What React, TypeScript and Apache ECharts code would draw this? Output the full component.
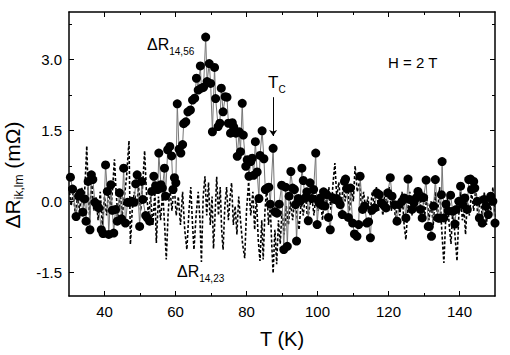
import React, { useEffect, useRef } from "react";
import * as echarts from "echarts";

// ΔR14,56 : filled circles (T in K, value in mΩ)
const r1456: [number, number][] = [
  [30.4,0.51],[31.0,0.26],[32.0,-0.32],[32.7,0.11],[33.2,0.18],[33.9,-0.23],[34.4,0.05],[34.8,-0.42],
  [35.4,0.42],[35.9,-0.6],[36.3,0.56],[36.7,0.46],[37.3,-0.02],[37.9,-0.07],[38.4,-0.14],[39.1,-0.6],
  [39.6,-0.68],[40.3,0.77],[40.8,0.21],[41.2,-0.7],[41.8,0.35],[42.2,-0.19],[42.6,-0.67],[43.1,-0.17],
  [43.6,-0.42],[44.2,0.18],[44.8,-0.37],[45.4,0.7],[45.9,-0.46],[46.5,-0.02],[47.1,-0.02],[47.7,0.0],
  [48.3,-0.02],[48.8,0.37],[49.2,0.56],[49.9,-0.53],[50.5,0.42],[50.8,0.04],[51.6,-0.3],[52.1,-0.35],
  [52.7,-0.42],[53.3,0.21],[53.9,0.53],[54.4,0.33],[55.0,0.25],[55.3,1.02],[55.9,0.35],[56.3,0.28],
  [56.9,0.7],[57.2,0.11],[57.8,1.09],[58.4,1.16],[58.9,0.96],[59.3,0.25],[59.7,0.5],[60.1,0.39],
  [60.5,2.06],[61.0,1.1],[61.5,1.02],[62.0,1.2],[62.3,1.64],[62.9,1.68],[63.5,1.89],[64.2,1.93],
  [64.8,2.14],[65.4,2.18],[65.9,2.6],[66.4,2.35],[67.0,2.86],[67.3,2.39],[67.9,2.41],[68.5,3.47],
  [68.9,2.53],[69.5,2.91],[69.9,2.49],[70.4,1.47],[71.0,2.83],[71.3,2.17],[72.0,1.58],[72.5,1.65],
  [72.9,2.39],[73.4,1.89],[74.0,2.21],[74.5,2.2],[74.9,1.65],[75.5,1.44],[76.0,1.66],[76.4,1.57],
  [77.0,1.44],[77.4,0.95],[77.9,1.47],[78.3,1.05],[78.8,2.07],[79.1,1.4],[79.8,0.74],[80.2,0.88],
  [80.7,0.53],[81.2,0.84],[81.6,0.91],[82.0,0.55],[82.5,1.26],[83.0,0.62],[83.5,0.06],[83.8,0.97],
  [84.4,1.49],[84.9,0.9],[85.3,0.25],[85.8,0.28],[86.3,0.3],[86.7,-0.06],[87.5,1.12],[88.0,-0.22],
  [88.6,-0.25],[89.2,-0.06],[89.9,0.34],[90.5,-1.02],[91.0,0.3],[91.5,-0.95],[92.0,0.11],[92.5,0.63],
  [93.0,0.28],[93.5,0.25],[93.8,-0.07],[94.1,-0.84],[94.6,0.06],[95.1,0.0],[95.6,0.7],[96.0,0.44],
  [96.5,0.07],[97.0,0.2],[97.4,-0.41],[97.9,0.39],[98.4,0.06],[98.9,0.25],[99.5,1.02],[99.9,-0.49],
  [100.4,-0.03],[100.8,0.07],[101.2,-0.08],[101.7,0.2],[102.1,-0.1],[102.6,0.14],[103.1,-0.34],[103.6,-0.6],
  [104.2,0.08],[104.8,0.04],[105.4,0.06],[105.9,0.0],[106.4,-0.07],[107.0,-0.28],[107.6,0.42],[107.9,0.47],
  [108.3,0.27],[108.7,-0.34],[109.3,0.28],[109.9,-0.46],[110.4,-0.69],[111.1,-0.74],[111.6,-0.49],[112.0,0.53],
  [112.7,-0.17],[113.3,-0.1],[113.9,-0.46],[114.4,-0.43],[114.9,-0.77],[115.3,-0.19],[116.1,-0.14],[116.7,0.18],
  [117.4,0.14],[118.0,-0.03],[118.6,-0.08],[119.3,-0.14],[119.8,0.18],[120.5,0.5],[121.0,0.11],[121.7,-0.07],
  [122.4,-0.42],[123.0,-0.07],[123.8,0.0],[124.4,0.07],[124.9,-0.35],[125.5,0.47],[125.9,0.04],[126.6,-0.17],
  [127.2,-0.03],[127.8,0.07],[128.3,0.21],[129.0,-0.17],[129.5,-0.35],[129.9,0.08],[130.6,0.45],[131.2,-0.53],
  [131.5,-0.53],[132.1,-0.74],[132.7,-0.1],[133.2,0.46],[133.9,-0.35],[134.4,-0.36],[134.9,0.14],[135.1,0.84],
  [135.6,-0.35],[136.2,-0.06],[136.8,-0.2],[137.5,0.13],[138.1,-0.21],[138.7,-0.48],[139.1,-0.17],[139.8,0.0],
  [140.3,0.32],[140.9,-0.07],[141.5,0.07],[142.2,-0.17],[142.6,0.46],[143.1,0.47],[143.4,0.25],[144.0,0.42],
  [144.3,0.28],[145.0,0.0],[145.6,-0.35],[146.4,-0.46],[146.9,0.04],[147.5,-0.1],[148.1,-0.28],[148.8,0.11],
  [149.4,0.0],[150.0,-0.46],
];

// ΔR14,23 : dashed line
const r1423: [number, number][] = [
  [30.0,0.3],[30.6,-0.1],[31.2,0.2],[31.8,-0.3],[32.4,0.1],[33.0,-0.2],[33.6,0.3],[34.2,-0.1],
  [34.6,0.5],[35.0,1.17],[35.4,0.2],[35.8,-0.3],[36.4,0.4],[37.0,-0.2],[37.6,0.1],[38.2,-0.4],
  [38.8,0.2],[39.4,-0.5],[40.0,0.1],[40.6,-0.3],[41.2,0.3],[41.8,-0.2],[42.4,0.4],[42.8,0.89],
  [43.2,0.3],[43.8,-0.4],[44.4,0.2],[45.0,-0.3],[45.6,0.1],[46.2,0.5],[46.9,1.28],[47.3,-0.91],
  [47.8,-0.2],[48.4,0.2],[49.0,-0.1],[49.6,0.3],[50.2,-0.2],[50.8,0.4],[51.3,1.07],[51.8,0.2],
  [52.4,-0.3],[53.0,0.1],[53.6,-0.5],[54.2,0.2],[54.6,-0.88],[55.2,0.1],[55.8,-0.4],[56.4,0.2],
  [57.0,-0.6],[57.4,-1.23],[57.9,-0.3],[58.4,0.3],[59.0,-0.2],[59.6,0.4],[60.2,-0.3],[60.8,0.1],
  [61.4,-0.5],[62.0,0.2],[62.6,-0.6],[63.2,-1.02],[63.8,-0.2],[64.3,0.3],[64.8,-0.5],[65.2,-1.02],
  [65.8,-0.3],[66.4,0.2],[66.9,-0.4],[67.3,-1.28],[67.8,0.1],[68.3,0.53],[68.8,-0.3],[69.3,0.4],
  [69.8,-0.5],[70.3,0.1],[70.7,-1.0],[71.2,-0.2],[71.6,0.52],[72.1,-0.3],[72.6,0.3],[73.0,-0.6],
  [73.4,-1.02],[73.9,-0.1],[74.4,0.3],[74.9,-0.4],[75.4,0.1],[75.8,0.39],[76.3,-0.5],[76.8,-0.1],
  [77.3,-0.7],[77.8,0.1],[78.3,-0.4],[78.9,-0.9],[79.5,-1.2],[80.0,-0.2],[80.6,0.41],[81.2,-0.3],
  [81.8,0.2],[82.3,-0.6],[82.8,0.1],[83.3,-0.8],[83.8,-1.26],[84.3,-0.4],[84.7,-1.23],[85.2,-0.2],
  [85.7,0.3],[86.2,-0.5],[86.7,-0.1],[87.1,-0.9],[87.5,-1.52],[88.0,-0.6],[88.5,-1.33],[89.0,-0.4],
  [89.5,-0.9],[90.0,-0.2],[90.6,-0.7],[91.2,-0.1],[91.8,-0.5],[92.4,0.0],[93.0,-0.4],[93.6,0.1],
  [94.2,-0.3],[94.8,-0.6],[95.4,0.0],[96.0,-0.3],[96.6,0.2],[97.2,-0.4],[97.8,-0.1],[98.4,0.1],
  [99.0,-0.3],[99.6,0.2],[100.2,-0.2],[100.8,0.1],[101.4,-0.4],[102.0,0.2],[102.6,-0.1],[103.2,0.3],
  [103.8,-0.2],[104.4,0.4],[104.9,0.81],[105.4,0.1],[106.0,0.4],[106.6,-0.1],[107.2,0.3],[107.8,0.0],
  [108.4,0.4],[109.0,-0.2],[109.6,0.3],[110.1,0.0],[110.6,0.75],[111.2,0.2],[111.8,0.4],[112.4,-0.1],
  [113.0,0.2],[113.6,-0.2],[114.2,0.1],[114.8,-0.3],[115.4,0.2],[116.0,-0.1],[116.6,0.3],[117.2,-0.2],
  [117.8,0.1],[118.4,-0.3],[119.0,0.2],[119.6,-0.1],[120.2,0.3],[120.8,-0.2],[121.4,0.1],[122.0,-0.4],
  [122.6,0.0],[123.2,-0.3],[123.8,0.2],[124.4,-0.5],[124.9,-0.81],[125.4,-0.2],[126.0,0.2],[126.6,-0.3],
  [127.2,0.1],[127.8,-0.2],[128.4,0.3],[129.0,-0.1],[129.6,0.2],[130.2,-0.3],[130.8,0.1],[131.4,-0.4],
  [132.0,0.0],[132.6,-0.5],[133.2,0.2],[133.8,-0.3],[134.4,0.3],[135.0,-0.6],[135.6,-1.3],[136.1,-0.4],
  [136.6,0.1],[137.1,-0.5],[137.6,-0.9],[138.1,-0.2],[138.6,-0.6],[139.3,-1.26],[139.8,-0.3],[140.3,0.2],
  [140.8,-0.4],[141.3,-0.2],[141.7,-0.7],[142.2,0.0],[142.8,-0.3],[143.4,0.2],[144.0,-0.2],[144.6,0.3],
  [145.2,-0.4],[145.8,0.1],[146.4,-0.3],[147.0,0.2],[147.6,-0.5],[148.2,0.1],[148.8,-0.2],[149.4,0.3],
  [150.0,-0.4],
];

const xMajor = [40, 60, 80, 100, 120, 140];
const xMinor = [50, 70, 90, 110, 130];
const yMajor = [-1.5, 0, 1.5, 3.0];
const yMinor = [-0.75, 0.75, 2.25, 3.75];
const tcArrow: [number, number][] = [[87.5, 2.2], [87.5, 1.38]];

const FONT = "'Liberation Sans', Arial, Helvetica, sans-serif";
const AX = "#000";

function xAx(pos: "top" | "bottom", vals: number[], len: number, labels: boolean, line: boolean) {
  return {
    type: "value",
    min: 30,
    max: 150,
    position: pos,
    axisLine: { show: line, onZero: false, lineStyle: { color: AX, width: 1.5 } },
    axisTick: { show: true, inside: true, length: len, customValues: vals, lineStyle: { color: AX, width: 1 } },
    axisLabel: labels
      ? { show: true, customValues: vals, fontSize: 15, color: "#000", fontFamily: FONT, margin: 8 }
      : { show: false },
    splitLine: { show: false },
  };
}
function yAx(pos: "left" | "right", vals: number[], len: number, labels: boolean, line: boolean) {
  return {
    type: "value",
    min: -2,
    max: 4,
    position: pos,
    axisLine: { show: line, onZero: false, lineStyle: { color: AX, width: 1.5 } },
    axisTick: { show: true, inside: true, length: len, customValues: vals, lineStyle: { color: AX, width: 1 } },
    axisLabel: labels
      ? {
          show: true,
          customValues: vals,
          fontSize: 15,
          color: "#000",
          fontFamily: FONT,
          margin: 7,
          formatter: (v: number) => v.toFixed(1),
        }
      : { show: false },
    splitLine: { show: false },
  };
}

export default function App() {
  const ref = useRef<HTMLDivElement>(null);
  useEffect(() => {
    if (!ref.current) return;
    const chart = echarts.init(ref.current, null, { renderer: "svg" });
    const xBottom: any = xAx("bottom", xMajor, 5, true, true);
    xBottom.name = "T (K)";
    xBottom.nameLocation = "middle";
    xBottom.nameGap = 33;
    xBottom.nameTextStyle = { fontSize: 20, color: "#000", fontFamily: FONT };
    chart.setOption({
      animation: false,
      backgroundColor: "#fff",
      grid: { left: 69, right: 15, top: 12, bottom: 59 },
      xAxis: [
        xBottom,
        xAx("bottom", xMinor, 3, false, false),
        xAx("top", xMajor, 5, false, true),
        xAx("top", xMinor, 3, false, false),
      ],
      yAxis: [
        yAx("left", yMajor, 5, true, true),
        yAx("left", yMinor, 3, false, false),
        yAx("right", yMajor, 5, false, true),
        yAx("right", yMinor, 3, false, false),
      ],
      graphic: [
        {
          type: "text",
          x: 12,
          y: 175,
          rotation: Math.PI / 2,
          style: {
            text: "{a|ΔR}{s|ik,lm}{a| (mΩ)}",
            align: "center",
            verticalAlign: "middle",
            fill: "#000",
            rich: {
              a: { fontSize: 21, lineHeight: 26, fontFamily: FONT, fill: "#000", verticalAlign: "middle" },
              s: { fontSize: 12, lineHeight: 12, fontFamily: FONT, fill: "#000", verticalAlign: "bottom" },
            },
          },
        },
        {
          type: "text",
          x: 147,
          y: 32,
          style: {
            text: "{a|ΔR}{s|14,56}",
            fill: "#000",
            rich: {
              a: { fontSize: 16, lineHeight: 24, fontFamily: FONT, fill: "#000", verticalAlign: "middle" },
              s: { fontSize: 10, lineHeight: 10, fontFamily: FONT, fill: "#000", verticalAlign: "bottom" },
            },
          },
        },
        {
          type: "text",
          x: 177,
          y: 259,
          style: {
            text: "{a|ΔR}{s|14,23}",
            fill: "#000",
            rich: {
              a: { fontSize: 16, lineHeight: 24, fontFamily: FONT, fill: "#000", verticalAlign: "middle" },
              s: { fontSize: 10, lineHeight: 10, fontFamily: FONT, fill: "#000", verticalAlign: "bottom" },
            },
          },
        },
        {
          type: "text",
          x: 268,
          y: 70,
          style: {
            text: "{a|T}{s|C}",
            fill: "#000",
            rich: {
              a: { fontSize: 17, lineHeight: 24, fontFamily: FONT, fill: "#000", verticalAlign: "middle" },
              s: { fontSize: 10, lineHeight: 10, fontFamily: FONT, fill: "#000", verticalAlign: "bottom" },
            },
          },
        },
        {
          type: "text",
          x: 388,
          y: 62,
          style: {
            text: "H = 2 T",
            fontSize: 15,
            fontFamily: FONT,
            fill: "#000",
            verticalAlign: "middle",
          },
        },
      ],
      series: [
        {
          name: "ΔR14,23",
          type: "line",
          data: r1423,
          showSymbol: false,
          symbol: "none",
          lineStyle: { color: "#000", width: 1.6, type: [3, 2] },
          z: 2,
        },
        {
          name: "ΔR14,56",
          type: "line",
          data: r1456,
          symbol: "circle",
          symbolSize: 9,
          showAllSymbol: true,
          itemStyle: { color: "#000" },
          lineStyle: { color: "#777", width: 1 },
          z: 3,
          markLine: {
            silent: true,
            symbol: ["none", "arrow"],
            symbolSize: 6,
            label: { show: false },
            lineStyle: { color: "#000", width: 1, type: "solid" },
            data: [[{ coord: tcArrow[0] }, { coord: tcArrow[1] }]],
          },
        },
      ],
    });
    return () => chart.dispose();
  }, []);
  return <div ref={ref} style={{ position: "absolute", left: 0, top: 0, width: 510, height: 355 }} />;
}
